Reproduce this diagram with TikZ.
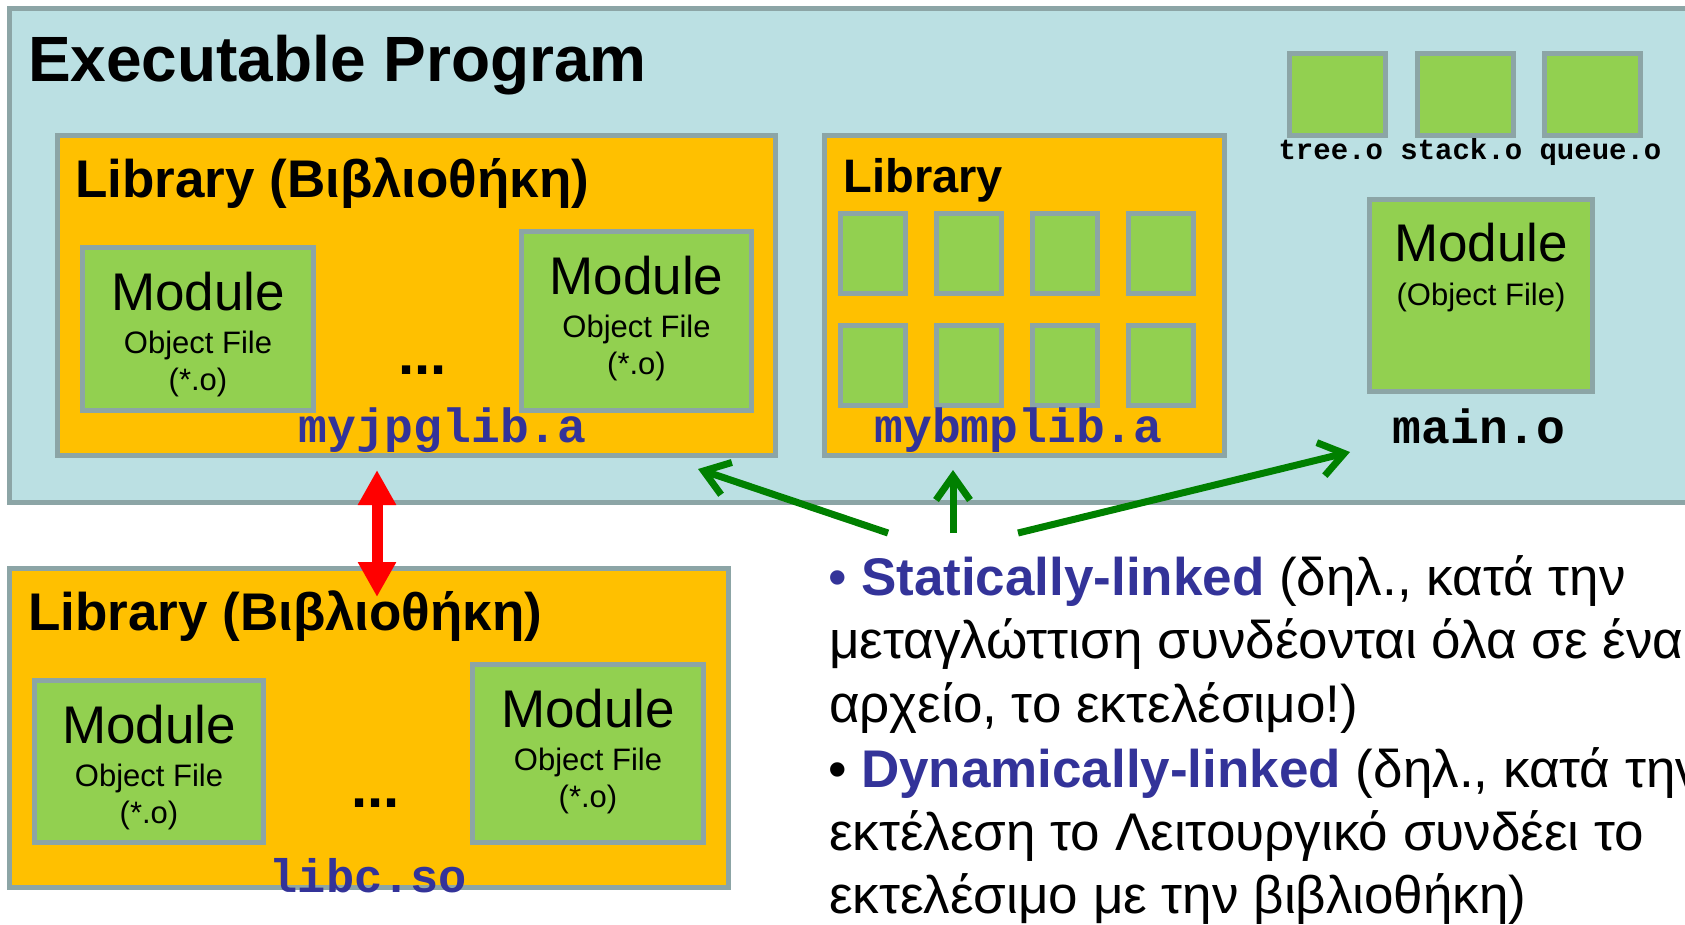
\documentclass[tikz,border=0pt]{standalone}
\usepackage{fontspec}
\setmainfont{Liberation Sans}
\newfontfamily\courfont{Liberation Mono}
\usetikzlibrary{arrows.meta}
\definecolor{bgblue}{HTML}{BBE0E3}
\definecolor{bdgray}{HTML}{8CA5A6}
\definecolor{liborange}{HTML}{FFC000}
\definecolor{modgreen}{HTML}{92D050}
\definecolor{txtblue}{HTML}{333399}
\definecolor{arrgreen}{HTML}{008000}
\definecolor{arrred}{HTML}{FF0000}
\newcommand\fsz[1]{\fontsize{#1}{#1}\selectfont}
\begin{document}
\begin{tikzpicture}[x=1pt,y=-1pt,
  box/.style={draw=bdgray, line width=5pt, inner sep=0pt, outer sep=0pt},
  libbox/.style={box, fill=liborange},
  modbox/.style={box, fill=modgreen},
  txt/.style={inner sep=0pt, outer sep=0pt, anchor=base},
  txtw/.style={inner sep=0pt, outer sep=0pt, anchor=base west},
  modbig/.style={txt, font=\fsz{53}},
  modsmall/.style={txt, font=\fsz{31}},
  codelbl/.style={txt, font=\courfont\bfseries\fsz{48}},
  bodytxt/.style={txtw, font=\fsz{53}},
  garrow/.style={arrgreen, line width=7pt, -{Straight Barb[length=24pt,width=34pt]}},
  rarrow/.style={arrred, line width=11pt, {Triangle[length=35pt,width=36pt]}-{Triangle[length=35pt,width=36pt]}}
]
\useasboundingbox (0,0) rectangle (1685,924);
\fill[white] (0,0) rectangle (1685,924);
\clip (0,0) rectangle (1685,924);

% executable program frame
\node[box, fill=bgblue, minimum width=1700pt, minimum height=494pt] (exe) at (859.5,255.5) {};
\node[txtw, font=\bfseries\fsz{64}] (title) at (28,81) {Executable Program};

% library 1
\node[libbox, minimum width=718pt, minimum height=320pt] (lib1) at (416.5,295.5) {};
\node[txtw, font=\bfseries\fsz{53}] (lib1t) at (75,197) {Library (Βιβλιοθήκη)};
\node[modbox, minimum width=231pt, minimum height=163pt] (m1a) at (198,329) {};
\node[modbox, minimum width=230pt, minimum height=179pt] (m1b) at (636.5,321) {};
\node[modbig] (m1at1) at (198,310) {Module};
\node[modsmall] (m1at2) at (198,353) {Object File};
\node[modsmall] (m1at3) at (198,390) {(*.o)};
\node[modbig] (m1bt1) at (636.5,294) {Module};
\node[modsmall] (m1bt2) at (636.5,337) {Object File};
\node[modsmall] (m1bt3) at (636.5,374) {(*.o)};
\node[txtw, font=\bfseries\fsz{58}] (dots1) at (398,374) {...};
\node[codelbl, text=txtblue] (lib1n) at (442.5,442) {myjpglib.a};

% library 2
\node[libbox, minimum width=400pt, minimum height=320pt] (lib2) at (1024.5,295.5) {};
\node[txtw, font=\bfseries\fsz{47}] (lib2t) at (843.5,192) {Library};
\foreach \i in {0,1,2,3}{
  \node[modbox, minimum width=65pt, minimum height=80pt] (s\i a) at (873+96*\i,253.5) {};
  \node[modbox, minimum width=65pt, minimum height=80pt] (s\i b) at (873+96*\i,365.5) {};
}
\node[codelbl, text=txtblue] (lib2n) at (1018.5,442) {mybmplib.a};

% object files
\node[modbox, minimum width=96pt, minimum height=82pt] (tree) at (1337.5,94.5) {};
\node[modbox, minimum width=96pt, minimum height=82pt] (stack) at (1465,94.5) {};
\node[modbox, minimum width=96pt, minimum height=82pt] (queue) at (1592.5,94.5) {};
\node[txt, font=\courfont\bfseries\fsz{29}] (objn) at (1470,159) {tree.o stack.o queue.o};

% main module
\node[modbox, minimum width=223pt, minimum height=192pt] (mainm) at (1481,295.5) {};
\node[modbig] (mainmt1) at (1481,261) {Module};
\node[modsmall] (mainmt2) at (1481,305) {(Object File)};
\node[codelbl] (mainn) at (1479,443) {main.o};

% library 3 (shared)
\node[libbox, minimum width=719pt, minimum height=319pt] (lib3) at (369,728) {};
\node[txtw, font=\bfseries\fsz{53}] (lib3t) at (28,630) {Library (Βιβλιοθήκη)};
\node[modbox, minimum width=229pt, minimum height=162pt] (m3a) at (149,761.5) {};
\node[modbox, minimum width=231pt, minimum height=178pt] (m3b) at (588,753.5) {};
\node[modbig] (m3at1) at (149,743) {Module};
\node[modsmall] (m3at2) at (149,786) {Object File};
\node[modsmall] (m3at3) at (149,823) {(*.o)};
\node[modbig] (m3bt1) at (588,727) {Module};
\node[modsmall] (m3bt2) at (588,770) {Object File};
\node[modsmall] (m3bt3) at (588,807) {(*.o)};
\node[txtw, font=\bfseries\fsz{58}] (dots3) at (351,807) {...};
\node[codelbl, text=txtblue, font=\courfont\bfseries\fsz{47}] (lib3n) at (368.5,892) {libc.so};

% body text
\node[txt, font=\fsz{53}, text=txtblue] (bul1) at (838,595) {•};
\node[bodytxt] (l1) at (861,595) {\textcolor{txtblue}{\bfseries Statically-linked} (δηλ., κατά την};
\node[bodytxt] (l2) at (829,658) {μεταγλώττιση συνδέονται όλα σε ένα};
\node[bodytxt] (l3) at (829,722) {αρχείο, το εκτελέσιμο!)};
\node[txt, font=\fsz{53}] (bul2) at (838,787) {•};
\node[bodytxt] (l4) at (861,787) {\textcolor{txtblue}{\bfseries Dynamically-linked} (δηλ., κατά την};
\node[bodytxt] (l5) at (829,850) {εκτέλεση το Λειτουργικό συνδέει το};
\node[bodytxt] (l6) at (829,913) {εκτελέσιμο με την βιβλιοθήκη)};

% arrows
\coordinate (g1s) at (888,533);
\coordinate (g1e) at (698,469);
\coordinate (g2s) at (953,533);
\coordinate (g2e) at (953,470);
\coordinate (g3s) at (1018,533);
\coordinate (g3e) at (1350,452);
\draw[garrow] (g1s) -- (g1e);
\draw[garrow] (g2s) -- (g2e);
\draw[garrow] (g3s) -- (g3e);
\coordinate (r1) at (377,470);
\coordinate (r2) at (377,597);
\draw[rarrow] (r1) -- (r2);
\end{tikzpicture}
\end{document}
